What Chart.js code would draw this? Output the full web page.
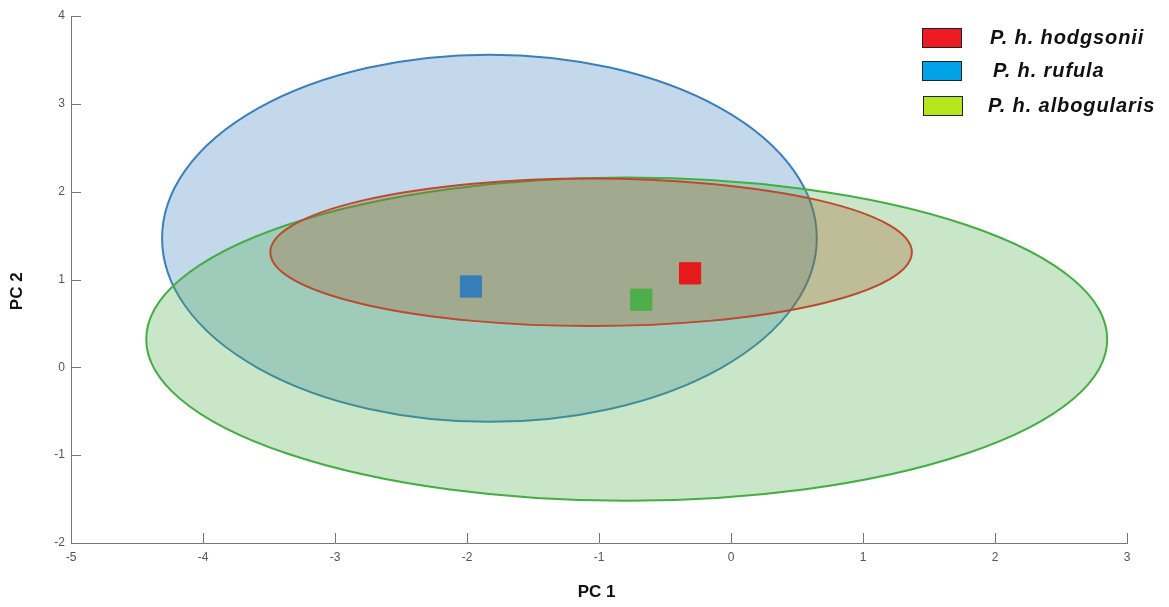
<!DOCTYPE html>
<html>
<head>
<meta charset="utf-8">
<script src="https://cdn.jsdelivr.net/npm/chart.js@4.4.0/dist/chart.umd.min.js"></script>
<style>
  html, body { margin: 0; padding: 0; background: #fff; }
  #wrap { position: relative; width: 1169px; height: 607px; }
  .leg { position: absolute; font-family: Arial, "Liberation Sans", sans-serif; font-weight: bold; font-style: italic; font-size: 20px; letter-spacing: 0.9px; line-height: 23px; color: #111; white-space: nowrap; }
  .box { position: absolute; width: 38px; height: 18px; border: 1px solid #222; }
</style>
</head>
<body>
<div id="wrap">
  <canvas id="myChart" width="1169" height="607"></canvas>
  <div id="legend"></div>
</div>
<script>
// groups (same order everywhere)
var groups = ['P. h. hodgsonii', 'P. h. rufula', 'P. h. albogularis'];

// group means (squares)
var meanX = [-0.31, -1.97, -0.68];
var meanY = [1.07, 0.92, 0.77];

// confidence ellipses: centre and half-axes, in PC units
var ellX = [-1.06, -1.83, -0.79];
var ellY = [1.31, 1.47, 0.32];
var ellRX = [2.43, 2.48, 3.64];
var ellRY = [0.84, 2.09, 1.84];

// axes
var xMin = -5, xMax = 3;
var yMin = -2, yMax = 4;

// styles
var markColors = ['#e41a1c', '#377eb8', '#4daf4a'];
var ellFill = ['rgba(166, 86, 40, 0.3)', 'rgba(55, 126, 184, 0.3)', 'rgba(77, 175, 74, 0.3)'];
var ellLine = ['#bb4a30', '#3b7fbd', '#44ad44'];
var legendColors = ['#ed1c24', '#00a2e8', '#b5e61d'];
var drawOrder = [1, 2, 0]; // blue, green, then brown on top

var ellipses = {
  id: 'ellipses',
  beforeDatasetsDraw: function (chart) {
    var ctx = chart.ctx;
    var xs = chart.scales.x, ys = chart.scales.y;
    ctx.save();
    for (var k = 0; k < drawOrder.length; k++) {
      var i = drawOrder[k];
      var cx = xs.getPixelForValue(ellX[i]);
      var cy = ys.getPixelForValue(ellY[i]);
      var rx = Math.abs(xs.getPixelForValue(ellX[i] + ellRX[i]) - cx);
      var ry = Math.abs(ys.getPixelForValue(ellY[i] + ellRY[i]) - cy);
      ctx.beginPath();
      ctx.ellipse(cx, cy, rx, ry, 0, 0, Math.PI * 2);
      ctx.fillStyle = ellFill[i];
      ctx.fill();
      ctx.lineWidth = 2;
      ctx.strokeStyle = ellLine[i];
      ctx.stroke();
    }
    ctx.restore();
  },
  afterDraw: function (chart) {
    // inward tick marks
    var ctx = chart.ctx;
    var xs = chart.scales.x, ys = chart.scales.y;
    var a = chart.chartArea;
    ctx.save();
    ctx.strokeStyle = '#777';
    ctx.lineWidth = 1;
    ctx.beginPath();
    xs.ticks.forEach(function (t) {
      var px = Math.round(xs.getPixelForValue(t.value)) + 0.5;
      ctx.moveTo(px, a.bottom);
      ctx.lineTo(px, a.bottom - 10);
    });
    ys.ticks.forEach(function (t) {
      var py = Math.round(ys.getPixelForValue(t.value)) + 0.5;
      ctx.moveTo(a.left, py);
      ctx.lineTo(a.left + 10, py);
    });
    ctx.stroke();
    ctx.restore();
  }
};

var datasets = [];
for (var i = 0; i < groups.length; i++) {
  datasets.push({
    label: groups[i],
    data: [{x: meanX[i], y: meanY[i]}],
    pointStyle: 'rect',
    pointRadius: 15,
    pointHoverRadius: 15,
    backgroundColor: markColors[i],
    borderColor: markColors[i],
    borderWidth: 1
  });
}

var tickFont = {family: 'Arial, "Liberation Sans", sans-serif', size: 12};
var titleFont = {family: 'Arial, "Liberation Sans", sans-serif', size: 17, weight: 'bold'};

new Chart('myChart', {
  type: 'scatter',
  data: {datasets: datasets},
  plugins: [ellipses],
  options: {
    responsive: false,
    animation: false,
    events: [],
    layout: {padding: {left: 0, top: 14, right: 42, bottom: 0}},
    plugins: {legend: {display: false}, tooltip: {enabled: false}},
    scales: {
      x: {
        type: 'linear', min: xMin, max: xMax,
        ticks: {stepSize: 1, color: '#555', font: tickFont, padding: 7, maxRotation: 0},
        grid: {display: false, drawTicks: false},
        border: {display: true, color: '#777', width: 1},
        title: {display: true, text: 'PC 1 ', color: '#111', font: titleFont, padding: {top: 0, bottom: 4}},
        afterFit: function (s) { s.height = 64; }
      },
      y: {
        type: 'linear', min: yMin, max: yMax,
        ticks: {stepSize: 1, color: '#555', font: tickFont, padding: 6},
        grid: {display: false, drawTicks: false},
        border: {display: true, color: '#777', width: 1},
        // trailing spaces push the label a little down, as in the original
        title: {display: true, text: 'PC 2     ', color: '#111', font: titleFont, padding: {top: 7, bottom: 0}},
        afterFit: function (s) { s.width = 71; }
      }
    }
  }
});

// legend as html
var legTop = [28, 61, 96];
var legBoxX = [922, 922, 923];
var legTextX = [990, 993, 988];
var html = '';
for (var i = 0; i < groups.length; i++) {
  html += '<div class="box" style="left:' + legBoxX[i] + 'px;top:' + legTop[i] + 'px;background:' + legendColors[i] + '"></div>';
  html += '<div class="leg" style="left:' + legTextX[i] + 'px;top:' + (legTop[i] - 2) + 'px">' + groups[i] + '</div>';
}
document.getElementById('legend').innerHTML = html;
</script>
</body>
</html>
